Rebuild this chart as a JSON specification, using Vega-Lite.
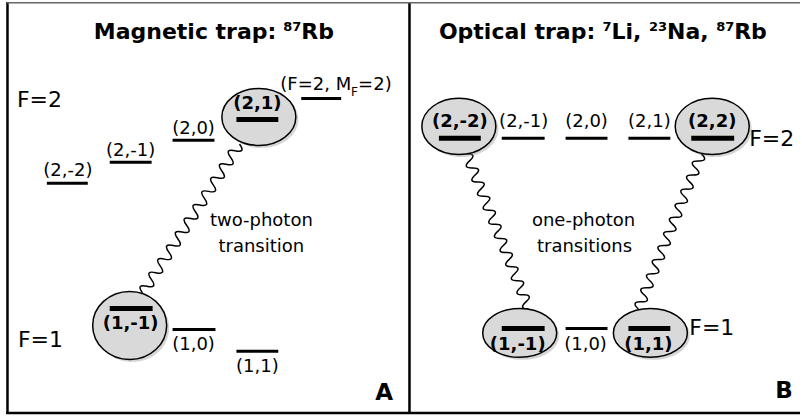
{
  "$schema": "https://vega.github.io/schema/vega-lite/v6.json",
  "width": 802,
  "height": 420,
  "autosize": {"type": "fit", "contains": "padding"},
  "padding": 0,
  "background": "white",
  "config": {"view": {"stroke": null}},
  "datasets": {
    "frame": [
      {"x1": 7.5, "y1": 0, "x2": 7.5, "y2": 414},
      {"x1": 410.5, "y1": 0, "x2": 410.5, "y2": 414},
      {"x1": 6.3, "y1": 413, "x2": 802, "y2": 413}
    ],
    "frametop": [{"x1": 7, "y1": 0.8, "x2": 802, "y2": 0.8}],
    "thin": [
      {"x1": 47, "x2": 88, "y": 182},
      {"x1": 110, "x2": 152, "y": 161},
      {"x1": 173, "x2": 215, "y": 139},
      {"x1": 302, "x2": 342, "y": 97},
      {"x1": 173, "x2": 216, "y": 329},
      {"x1": 237, "x2": 279, "y": 351},
      {"x1": 503, "x2": 546, "y": 137},
      {"x1": 567, "x2": 609, "y": 137},
      {"x1": 630, "x2": 672, "y": 137},
      {"x1": 567, "x2": 609, "y": 328}
    ],
    "thick": [
      {"x1": 237, "x2": 279, "y": 118},
      {"x1": 110, "x2": 153, "y": 308},
      {"x1": 440, "x2": 482, "y": 137},
      {"x1": 693, "x2": 736, "y": 137},
      {"x1": 503, "x2": 546, "y": 328},
      {"x1": 630, "x2": 672, "y": 328}
    ],
    "eA2": [{"x": 259.5, "y": 115.5}],
    "eA1": [{"x": 130, "y": 325}],
    "eB2": [{"x": 460, "y": 125}, {"x": 714, "y": 125}],
    "eB1": [{"x": 521, "y": 332.5}, {"x": 652, "y": 332.5}],
    "waveA": [{"x": 191.5, "y": 217.5}],
    "waveBL": [{"x": 499, "y": 230.5}],
    "waveBR": [{"x": 671.5, "y": 230.5}],
    "lab": [
      {"x": 68, "y": 170, "t": "(2,-2)"},
      {"x": 131, "y": 150, "t": "(2,-1)"},
      {"x": 194, "y": 128, "t": "(2,0)"},
      {"x": 194, "y": 345, "t": "(1,0)"},
      {"x": 258, "y": 367, "t": "(1,1)"},
      {"x": 525, "y": 121, "t": "(2,-1)"},
      {"x": 588, "y": 121, "t": "(2,0)"},
      {"x": 651, "y": 121, "t": "(2,1)"},
      {"x": 587, "y": 345, "t": "(1,0)"}
    ],
    "labb": [
      {"x": 258, "y": 102, "t": "(2,1)"},
      {"x": 131, "y": 324, "t": "(1,-1)"},
      {"x": 461, "y": 121, "t": "(2,-2)"},
      {"x": 714, "y": 121, "t": "(2,2)"},
      {"x": 519, "y": 345, "t": "(1,-1)"},
      {"x": 650, "y": 345, "t": "(1,1)"}
    ],
    "fmf": [
      {"x": 281, "y": 83, "t": "(F=2, M"},
      {"x": 359, "y": 83, "t": "=2)"}
    ],
    "fmfsub": [{"x": 352, "y": 90, "t": "F"}],
    "big": [
      {"x": 17, "y": 98, "t": "F=2"},
      {"x": 18, "y": 340, "t": "F=1"},
      {"x": 751, "y": 138, "t": "F=2"},
      {"x": 691, "y": 328, "t": "F=1"}
    ],
    "trans": [
      {"x": 262, "y": 220, "t": "two-photon"},
      {"x": 262, "y": 246, "t": "transition"},
      {"x": 585, "y": 220, "t": "one-photon"},
      {"x": 586, "y": 246, "t": "transitions"}
    ],
    "letters": [
      {"x": 385, "y": 400, "t": "A"},
      {"x": 786, "y": 398, "t": "B"}
    ],
    "title": [
      {"x": 94, "y": 37, "t": "Magnetic trap:"},
      {"x": 302, "y": 37, "t": "Rb"},
      {"x": 440, "y": 37, "t": "Optical trap:"},
      {"x": 613, "y": 37, "t": "Li,"},
      {"x": 668.7, "y": 37, "t": "Na,"},
      {"x": 736, "y": 37, "t": "Rb"}
    ],
    "sup": [
      {"x": 284, "y": 29, "t": "87"},
      {"x": 604, "y": 29, "t": "7"},
      {"x": 650.6, "y": 29, "t": "23"},
      {"x": 718, "y": 29, "t": "87"}
    ]
  },
  "layer": [
    {
      "data": {"name": "frame"},
      "mark": {"type": "rule", "stroke": "black", "strokeWidth": 2.5},
      "encoding": {
        "x": {"field": "x1", "type": "quantitative", "scale": {"domain": [0, 802], "nice": false, "zero": false}, "axis": null},
        "x2": {"field": "x2"},
        "y": {"field": "y1", "type": "quantitative", "scale": {"domain": [0, 420], "nice": false, "zero": false, "reverse": true}, "axis": null},
        "y2": {"field": "y2"}
      }
    },
    {
      "data": {"name": "frametop"},
      "mark": {"type": "rule", "stroke": "#666666", "strokeWidth": 1.5},
      "encoding": {
        "x": {"field": "x1", "type": "quantitative", "axis": null},
        "x2": {"field": "x2"},
        "y": {"field": "y1", "type": "quantitative", "axis": null},
        "y2": {"field": "y2"}
      }
    },
    {
      "data": {"name": "waveA"},
      "mark": {"type": "point", "filled": false, "opacity": 1, "stroke": "black", "strokeWidth": 1.5, "size": 31613, "angle": 33.06,
        "shape": "M0,-1 Q0.12,-0.9545 0,-0.9091 Q-0.12,-0.8636 0,-0.8182 Q0.12,-0.7727 0,-0.7273 Q-0.12,-0.6818 0,-0.6364 Q0.12,-0.5909 0,-0.5455 Q-0.12,-0.5 0,-0.4545 Q0.12,-0.4091 0,-0.3636 Q-0.12,-0.3182 0,-0.2727 Q0.12,-0.2273 0,-0.1818 Q-0.12,-0.1364 0,-0.0909 Q0.12,-0.0455 0,0 Q-0.12,0.0455 0,0.0909 Q0.12,0.1364 0,0.1818 Q-0.12,0.2273 0,0.2727 Q0.12,0.3182 0,0.3636 Q-0.12,0.4091 0,0.4545 Q0.12,0.5 0,0.5455 Q-0.12,0.5909 0,0.6364 Q0.12,0.6818 0,0.7273 Q-0.12,0.7727 0,0.8182 Q0.12,0.8636 0,0.9091 Q-0.12,0.9545 0,1"},
      "encoding": {
        "x": {"field": "x", "type": "quantitative", "axis": null},
        "y": {"field": "y", "type": "quantitative", "axis": null}
      }
    },
    {
      "data": {"name": "waveBL"},
      "mark": {"type": "point", "filled": false, "opacity": 1, "stroke": "black", "strokeWidth": 1.5, "size": 27889, "angle": -21.8,
        "shape": "M0,-1 Q0.12,-0.9545 0,-0.9091 Q-0.12,-0.8636 0,-0.8182 Q0.12,-0.7727 0,-0.7273 Q-0.12,-0.6818 0,-0.6364 Q0.12,-0.5909 0,-0.5455 Q-0.12,-0.5 0,-0.4545 Q0.12,-0.4091 0,-0.3636 Q-0.12,-0.3182 0,-0.2727 Q0.12,-0.2273 0,-0.1818 Q-0.12,-0.1364 0,-0.0909 Q0.12,-0.0455 0,0 Q-0.12,0.0455 0,0.0909 Q0.12,0.1364 0,0.1818 Q-0.12,0.2273 0,0.2727 Q0.12,0.3182 0,0.3636 Q-0.12,0.4091 0,0.4545 Q0.12,0.5 0,0.5455 Q-0.12,0.5909 0,0.6364 Q0.12,0.6818 0,0.7273 Q-0.12,0.7727 0,0.8182 Q0.12,0.8636 0,0.9091 Q-0.12,0.9545 0,1"},
      "encoding": {
        "x": {"field": "x", "type": "quantitative", "axis": null},
        "y": {"field": "y", "type": "quantitative", "axis": null}
      }
    },
    {
      "data": {"name": "waveBR"},
      "mark": {"type": "point", "filled": false, "opacity": 1, "stroke": "black", "strokeWidth": 1.5, "size": 27989, "angle": 22.1,
        "shape": "M0,-1 Q0.12,-0.9545 0,-0.9091 Q-0.12,-0.8636 0,-0.8182 Q0.12,-0.7727 0,-0.7273 Q-0.12,-0.6818 0,-0.6364 Q0.12,-0.5909 0,-0.5455 Q-0.12,-0.5 0,-0.4545 Q0.12,-0.4091 0,-0.3636 Q-0.12,-0.3182 0,-0.2727 Q0.12,-0.2273 0,-0.1818 Q-0.12,-0.1364 0,-0.0909 Q0.12,-0.0455 0,0 Q-0.12,0.0455 0,0.0909 Q0.12,0.1364 0,0.1818 Q-0.12,0.2273 0,0.2727 Q0.12,0.3182 0,0.3636 Q-0.12,0.4091 0,0.4545 Q0.12,0.5 0,0.5455 Q-0.12,0.5909 0,0.6364 Q0.12,0.6818 0,0.7273 Q-0.12,0.7727 0,0.8182 Q0.12,0.8636 0,0.9091 Q-0.12,0.9545 0,1"},
      "encoding": {
        "x": {"field": "x", "type": "quantitative", "axis": null},
        "y": {"field": "y", "type": "quantitative", "axis": null}
      }
    },
    {
      "data": {"name": "eA2"},
      "mark": {"type": "point", "filled": true, "opacity": 0.35, "fill": "#888888", "strokeWidth": 0, "size": 5476, "xOffset": 2.5, "yOffset": 2.5,
        "shape": "M1,0 C1,0.4253 0.5523,0.77 0,0.77 C-0.5523,0.77 -1,0.4253 -1,0 C-1,-0.4253 -0.5523,-0.77 0,-0.77 C0.5523,-0.77 1,-0.4253 1,0 Z"},
      "encoding": {
        "x": {"field": "x", "type": "quantitative", "axis": null},
        "y": {"field": "y", "type": "quantitative", "axis": null}
      }
    },
    {
      "data": {"name": "eA2"},
      "mark": {"type": "point", "filled": true, "opacity": 1, "fill": "#d9d9d9", "stroke": "black", "strokeWidth": 1.5, "size": 5476,
        "shape": "M1,0 C1,0.4253 0.5523,0.77 0,0.77 C-0.5523,0.77 -1,0.4253 -1,0 C-1,-0.4253 -0.5523,-0.77 0,-0.77 C0.5523,-0.77 1,-0.4253 1,0 Z"},
      "encoding": {
        "x": {"field": "x", "type": "quantitative", "axis": null},
        "y": {"field": "y", "type": "quantitative", "axis": null}
      }
    },
    {
      "data": {"name": "eA1"},
      "mark": {"type": "point", "filled": true, "opacity": 0.35, "fill": "#888888", "strokeWidth": 0, "size": 5476, "xOffset": 2.5, "yOffset": 2.5,
        "shape": "M1,0 C1,0.5081 0.5523,0.92 0,0.92 C-0.5523,0.92 -1,0.5081 -1,0 C-1,-0.5081 -0.5523,-0.92 0,-0.92 C0.5523,-0.92 1,-0.5081 1,0 Z"},
      "encoding": {
        "x": {"field": "x", "type": "quantitative", "axis": null},
        "y": {"field": "y", "type": "quantitative", "axis": null}
      }
    },
    {
      "data": {"name": "eA1"},
      "mark": {"type": "point", "filled": true, "opacity": 1, "fill": "#d9d9d9", "stroke": "black", "strokeWidth": 1.5, "size": 5476,
        "shape": "M1,0 C1,0.5081 0.5523,0.92 0,0.92 C-0.5523,0.92 -1,0.5081 -1,0 C-1,-0.5081 -0.5523,-0.92 0,-0.92 C0.5523,-0.92 1,-0.5081 1,0 Z"},
      "encoding": {
        "x": {"field": "x", "type": "quantitative", "axis": null},
        "y": {"field": "y", "type": "quantitative", "axis": null}
      }
    },
    {
      "data": {"name": "eB2"},
      "mark": {"type": "point", "filled": true, "opacity": 0.35, "fill": "#888888", "strokeWidth": 0, "size": 5476, "xOffset": 2.5, "yOffset": 2.5,
        "shape": "M1,0 C1,0.4197 0.5523,0.76 0,0.76 C-0.5523,0.76 -1,0.4197 -1,0 C-1,-0.4197 -0.5523,-0.76 0,-0.76 C0.5523,-0.76 1,-0.4197 1,0 Z"},
      "encoding": {
        "x": {"field": "x", "type": "quantitative", "axis": null},
        "y": {"field": "y", "type": "quantitative", "axis": null}
      }
    },
    {
      "data": {"name": "eB2"},
      "mark": {"type": "point", "filled": true, "opacity": 1, "fill": "#d9d9d9", "stroke": "black", "strokeWidth": 1.5, "size": 5476,
        "shape": "M1,0 C1,0.4197 0.5523,0.76 0,0.76 C-0.5523,0.76 -1,0.4197 -1,0 C-1,-0.4197 -0.5523,-0.76 0,-0.76 C0.5523,-0.76 1,-0.4197 1,0 Z"},
      "encoding": {
        "x": {"field": "x", "type": "quantitative", "axis": null},
        "y": {"field": "y", "type": "quantitative", "axis": null}
      }
    },
    {
      "data": {"name": "eB1"},
      "mark": {"type": "point", "filled": true, "opacity": 0.35, "fill": "#888888", "strokeWidth": 0, "size": 5476, "xOffset": 2.5, "yOffset": 2.5,
        "shape": "M1,0 C1,0.3645 0.5523,0.66 0,0.66 C-0.5523,0.66 -1,0.3645 -1,0 C-1,-0.3645 -0.5523,-0.66 0,-0.66 C0.5523,-0.66 1,-0.3645 1,0 Z"},
      "encoding": {
        "x": {"field": "x", "type": "quantitative", "axis": null},
        "y": {"field": "y", "type": "quantitative", "axis": null}
      }
    },
    {
      "data": {"name": "eB1"},
      "mark": {"type": "point", "filled": true, "opacity": 1, "fill": "#d9d9d9", "stroke": "black", "strokeWidth": 1.5, "size": 5476,
        "shape": "M1,0 C1,0.3645 0.5523,0.66 0,0.66 C-0.5523,0.66 -1,0.3645 -1,0 C-1,-0.3645 -0.5523,-0.66 0,-0.66 C0.5523,-0.66 1,-0.3645 1,0 Z"},
      "encoding": {
        "x": {"field": "x", "type": "quantitative", "axis": null},
        "y": {"field": "y", "type": "quantitative", "axis": null}
      }
    },
    {
      "data": {"name": "thin"},
      "mark": {"type": "rule", "stroke": "black", "strokeWidth": 3},
      "encoding": {
        "x": {"field": "x1", "type": "quantitative", "axis": null},
        "x2": {"field": "x2"},
        "y": {"field": "y", "type": "quantitative", "axis": null}
      }
    },
    {
      "data": {"name": "thick"},
      "mark": {"type": "rule", "stroke": "black", "strokeWidth": 5},
      "encoding": {
        "x": {"field": "x1", "type": "quantitative", "axis": null},
        "x2": {"field": "x2"},
        "y": {"field": "y", "type": "quantitative", "axis": null}
      }
    },
    {
      "data": {"name": "lab"},
      "mark": {"type": "text", "font": "DejaVu Sans", "fontSize": 18, "align": "center", "baseline": "middle", "color": "black"},
      "encoding": {
        "x": {"field": "x", "type": "quantitative", "axis": null},
        "y": {"field": "y", "type": "quantitative", "axis": null},
        "text": {"field": "t"}
      }
    },
    {
      "data": {"name": "labb"},
      "mark": {"type": "text", "font": "DejaVu Sans", "fontSize": 18, "fontWeight": "bold", "align": "center", "baseline": "middle", "color": "black"},
      "encoding": {
        "x": {"field": "x", "type": "quantitative", "axis": null},
        "y": {"field": "y", "type": "quantitative", "axis": null},
        "text": {"field": "t"}
      }
    },
    {
      "data": {"name": "fmf"},
      "mark": {"type": "text", "font": "DejaVu Sans", "fontSize": 18, "align": "left", "baseline": "middle", "color": "black"},
      "encoding": {
        "x": {"field": "x", "type": "quantitative", "axis": null},
        "y": {"field": "y", "type": "quantitative", "axis": null},
        "text": {"field": "t"}
      }
    },
    {
      "data": {"name": "fmfsub"},
      "mark": {"type": "text", "font": "DejaVu Sans", "fontSize": 12, "align": "left", "baseline": "middle", "color": "black"},
      "encoding": {
        "x": {"field": "x", "type": "quantitative", "axis": null},
        "y": {"field": "y", "type": "quantitative", "axis": null},
        "text": {"field": "t"}
      }
    },
    {
      "data": {"name": "big"},
      "mark": {"type": "text", "font": "DejaVu Sans", "fontSize": 22, "align": "left", "baseline": "middle", "color": "black"},
      "encoding": {
        "x": {"field": "x", "type": "quantitative", "axis": null},
        "y": {"field": "y", "type": "quantitative", "axis": null},
        "text": {"field": "t"}
      }
    },
    {
      "data": {"name": "trans"},
      "mark": {"type": "text", "font": "DejaVu Sans", "fontSize": 18, "align": "center", "baseline": "middle", "color": "black"},
      "encoding": {
        "x": {"field": "x", "type": "quantitative", "axis": null},
        "y": {"field": "y", "type": "quantitative", "axis": null},
        "text": {"field": "t"}
      }
    },
    {
      "data": {"name": "letters"},
      "mark": {"type": "text", "font": "DejaVu Sans", "fontSize": 23, "fontWeight": "bold", "align": "center", "baseline": "alphabetic", "color": "black"},
      "encoding": {
        "x": {"field": "x", "type": "quantitative", "axis": null},
        "y": {"field": "y", "type": "quantitative", "axis": null},
        "text": {"field": "t"}
      }
    },
    {
      "data": {"name": "title"},
      "mark": {"type": "text", "font": "DejaVu Sans", "fontSize": 22, "fontWeight": "bold", "align": "left", "baseline": "alphabetic", "color": "black"},
      "encoding": {
        "x": {"field": "x", "type": "quantitative", "axis": null},
        "y": {"field": "y", "type": "quantitative", "axis": null},
        "text": {"field": "t"}
      }
    },
    {
      "data": {"name": "sup"},
      "mark": {"type": "text", "font": "DejaVu Sans", "fontSize": 13, "fontWeight": "bold", "align": "left", "baseline": "alphabetic", "color": "black"},
      "encoding": {
        "x": {"field": "x", "type": "quantitative", "axis": null},
        "y": {"field": "y", "type": "quantitative", "axis": null},
        "text": {"field": "t"}
      }
    }
  ]
}
